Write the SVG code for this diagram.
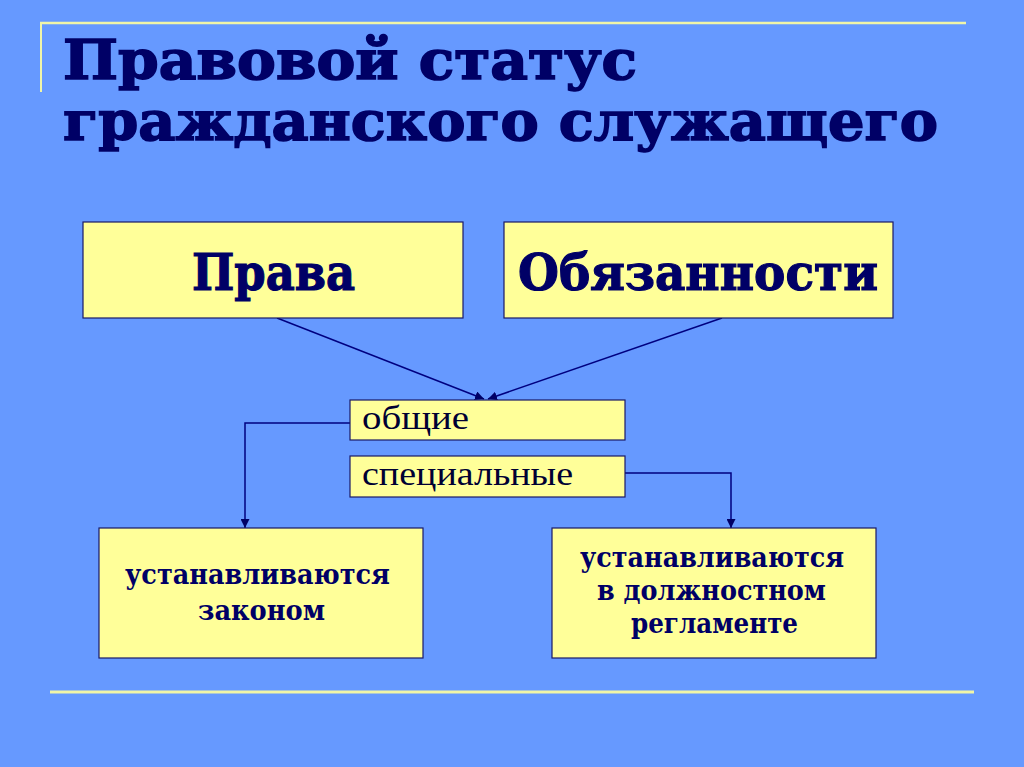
<svg xmlns="http://www.w3.org/2000/svg" width="1024" height="767" viewBox="0 0 1024 767">
  <defs>
    <marker id="arr" viewBox="0 0 10 10" refX="10" refY="5" markerWidth="9" markerHeight="9" markerUnits="userSpaceOnUse" orient="auto">
      <path d="M0,0 L10,5 L0,10 z" fill="#000066"/>
    </marker>
    <style>
      .box { fill: #FFFF99; stroke: #1a1a66; stroke-width: 1.2; }
      .title { font-family: "DejaVu Serif", "Liberation Serif", serif; font-weight: bold; fill: #000066; stroke: #000066; stroke-width: 1.6; font-size: 55px; }
      .big { font-family: "DejaVu Serif", "Liberation Serif", serif; font-weight: bold; fill: #000066; stroke: #000066; stroke-width: 1.2; font-size: 50px; }
      .mid { font-family: "Liberation Serif", "DejaVu Serif", serif; fill: #000033; font-size: 34px; }
      .low { font-family: "DejaVu Serif", "Liberation Serif", serif; font-weight: bold; fill: #000066; font-size: 28px; }
      .conn { fill: none; stroke: #000080; stroke-width: 1.5; }
      .rule { stroke: #F0F5A8; }
    </style>
  </defs>
  <rect x="0" y="0" width="1024" height="767" fill="#6699FF"/>
  <g id="decor">
    <line class="rule" x1="40" y1="23" x2="966" y2="23" stroke-width="2.5"/>
    <line class="rule" x1="41" y1="22" x2="41" y2="92" stroke-width="2"/>
    <line class="rule" x1="50" y1="692" x2="974" y2="692" stroke-width="3"/>
  </g>
  <g id="title">
    <text class="title" x="63" y="79" textLength="574" lengthAdjust="spacingAndGlyphs">Правовой статус</text>
    <text class="title" x="63" y="140" textLength="875" lengthAdjust="spacingAndGlyphs">гражданского служащего</text>
  </g>
  <g id="connectors">
    <line class="conn" x1="277" y1="318" x2="484" y2="399" marker-end="url(#arr)"/>
    <line class="conn" x1="722" y1="318" x2="488" y2="399" marker-end="url(#arr)"/>
    <polyline class="conn" points="350,423 245,423 245,528" marker-end="url(#arr)"/>
    <polyline class="conn" points="625,473 731,473 731,528" marker-end="url(#arr)"/>
  </g>
  <g id="node-prava">
    <rect class="box" x="83" y="222" width="380" height="96"/>
    <text class="big" x="192" y="290" textLength="163" lengthAdjust="spacingAndGlyphs">Права</text>
  </g>
  <g id="node-obyazannosti">
    <rect class="box" x="504" y="222" width="389" height="96"/>
    <text class="big" x="518" y="290" textLength="360" lengthAdjust="spacingAndGlyphs">Обязанности</text>
  </g>
  <g id="node-obshchie">
    <rect class="box" x="350" y="400" width="275" height="40"/>
    <text class="mid" x="362" y="429" textLength="107" lengthAdjust="spacingAndGlyphs">общие</text>
  </g>
  <g id="node-specialnye">
    <rect class="box" x="350" y="456" width="275" height="41"/>
    <text class="mid" x="362" y="485" textLength="211" lengthAdjust="spacingAndGlyphs">специальные</text>
  </g>
  <g id="node-zakon">
    <rect class="box" x="99" y="528" width="324" height="130"/>
    <text class="low" x="125" y="584" textLength="265" lengthAdjust="spacingAndGlyphs">устанавливаются</text>
    <text class="low" x="198" y="620" textLength="127" lengthAdjust="spacingAndGlyphs">законом</text>
  </g>
  <g id="node-reglament">
    <rect class="box" x="552" y="528" width="324" height="130"/>
    <text class="low" x="580" y="567" textLength="264" lengthAdjust="spacingAndGlyphs">устанавливаются</text>
    <text class="low" x="597" y="600" textLength="229" lengthAdjust="spacingAndGlyphs">в должностном</text>
    <text class="low" x="631" y="633" textLength="167" lengthAdjust="spacingAndGlyphs">регламенте</text>
  </g>
</svg>
